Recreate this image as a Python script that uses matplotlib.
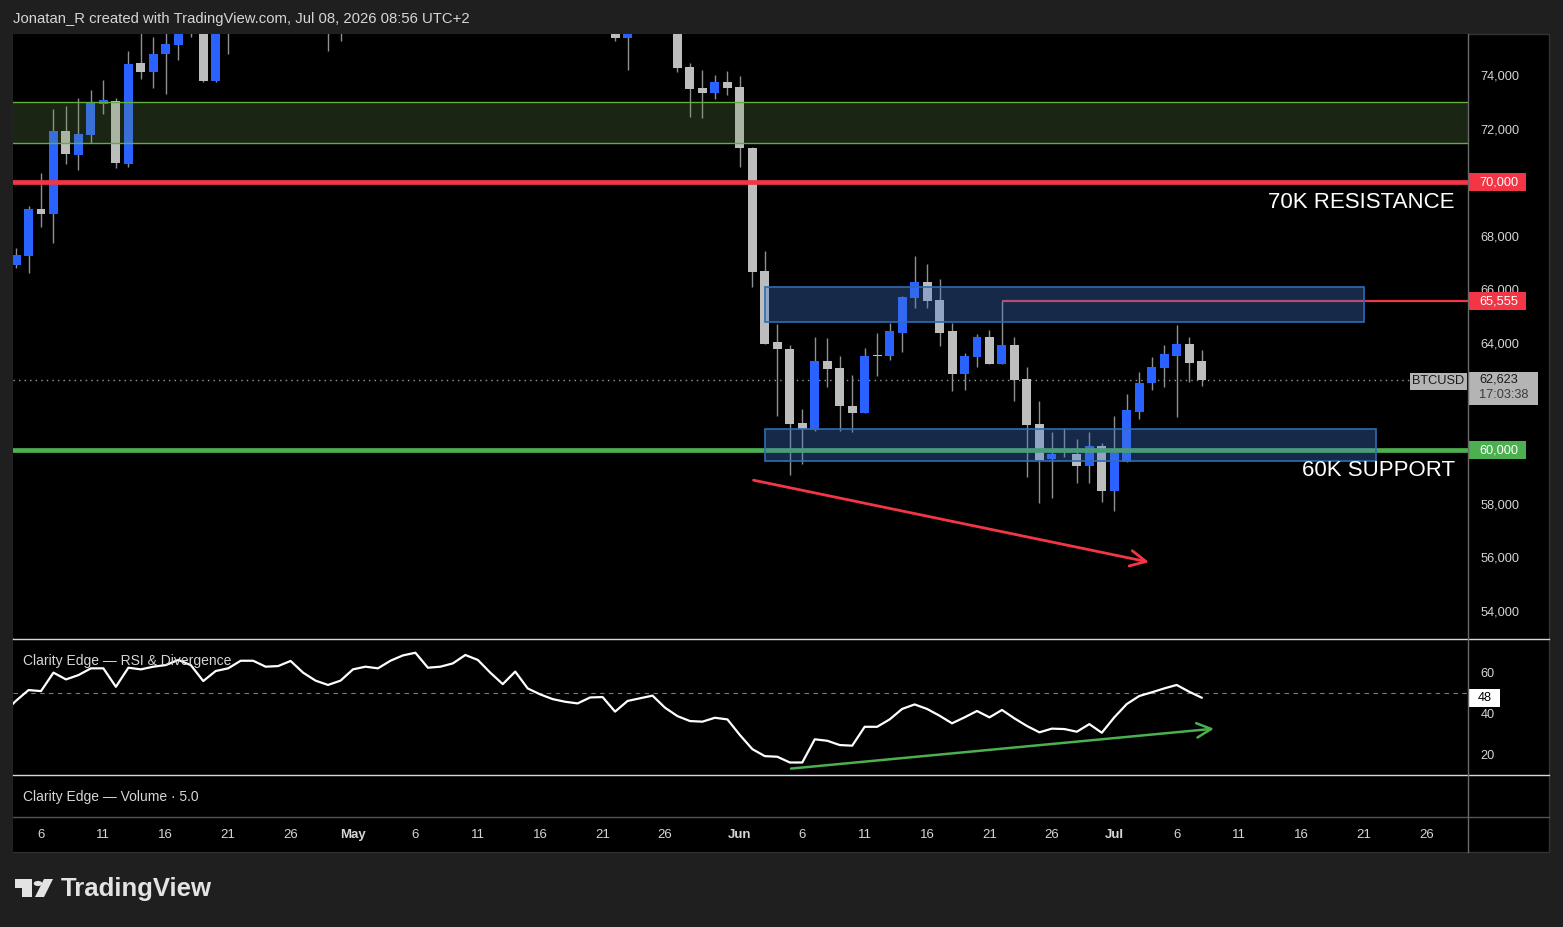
import matplotlib
matplotlib.use("Agg")
import matplotlib.pyplot as plt
import matplotlib.dates as mdates
from matplotlib.patches import Rectangle, Circle, Polygon
from matplotlib.lines import Line2D
from matplotlib.ticker import FuncFormatter
import numpy as np
import pandas as pd

plt.rcParams['font.family'] = ['Liberation Sans', 'DejaVu Sans']

# ---- data ----
dates = pd.date_range("2026-04-03", "2026-07-08", freq="D")

opens_apr = [66400, 66910, 67230, 68990, 68800, 71910, 71010, 71760, 72920, 73030, 70670, 74450, 74110, 74790,
             75120, 76200, 76500, 73780, 76400, 76900, 77800, 77900, 77400, 77500, 78300, 77100, 76300, 75800]
highs_apr = [67000, 67530, 69100, 70340, 72730, 72840, 73140, 73440, 73810, 73140, 74900, 75800, 75420, 75700,
             76300, 77100, 77000, 77200, 77300, 78200, 78400, 78100, 78000, 78600, 78500, 77400, 76600, 76700]
lows_apr = [66100, 66790, 66600, 68320, 67720, 70670, 70450, 71460, 72540, 70520, 70560, 73850, 73510, 73290,
            74560, 75420, 73740, 73740, 74790, 76500, 77200, 77000, 77100, 77300, 76900, 75900, 74900, 75270]
closes_apr = [66900, 67270, 68990, 68800, 71910, 71050, 71790, 72950, 73060, 70710, 74410, 74110, 74790, 75160,
              75900, 76600, 73780, 76400, 76900, 77800, 77900, 77400, 77500, 78300, 77100, 76300, 75800, 76200]

opens_may = [76200, 77600, 77900, 77800, 78700, 79500, 80000, 78600, 78700, 79200, 80300, 79800, 78700, 77600, 78500,
             77200, 76700, 76400, 76200, 76000, 76600, 76700, 75380, 76300, 76500, 76700, 75700, 74300, 73510, 73330, 73740]
highs_may = [77900, 78200, 78100, 79000, 79800, 80300, 80200, 79000, 79400, 80600, 80500, 80000, 78900, 78800, 78600,
             77400, 77000, 76800, 76500, 76900, 77000, 76900, 76600, 76800, 77000, 76800, 75900, 74450, 74190, 74000, 74150]
lows_may = [75900, 77300, 77400, 77600, 78500, 79200, 78300, 78200, 78500, 79000, 79500, 78400, 77300, 77400, 76900,
            76400, 76100, 75900, 75700, 75800, 76200, 75270, 74190, 75900, 76200, 75550, 74110, 72430, 72390, 73100, 73250]
closes_may = [77600, 77900, 77800, 78700, 79500, 80000, 78600, 78700, 79200, 80300, 79800, 78700, 77600, 78500, 77200,
              76700, 76400, 76200, 76000, 76600, 76700, 75380, 76300, 76500, 76700, 75700, 74260, 73480, 73330, 73740, 73510]

opens_jun = [73550, 71270, 66670, 64020, 63790, 61030, 60770, 63310, 63050, 61660, 61400, 63530, 63500, 64390, 65660,
             66260, 65590, 64430, 62860, 63460, 64210, 63200, 63940, 62640, 60990, 59680, 60050, 59870, 59420, 60170]
highs_jun = [73960, 71310, 67420, 64690, 63910, 61520, 64210, 64170, 63500, 62790, 63830, 64360, 64730, 65740, 67230,
             66940, 66370, 64730, 63610, 64320, 64500, 65555, 64210, 63120, 61850, 60660, 60840, 60430, 60690, 60250]
lows_jun = [70560, 66080, 63950, 61290, 59090, 59500, 60730, 62370, 60730, 60690, 61400, 62750, 63380, 63650, 65290,
            65290, 63870, 62190, 62230, 63120, 63200, 63200, 61850, 59010, 58040, 58230, 59760, 58790, 58790, 58080]
closes_jun = [71270, 66640, 63980, 63760, 60990, 60800, 63310, 63010, 61630, 61400, 63530, 63500, 64430, 65700, 66260,
              65550, 64390, 62860, 63500, 64240, 63200, 63940, 62600, 60950, 59650, 59870, 59980, 59420, 60170, 58490]

opens_jul = [58490, 59570, 61440, 62490, 63050, 63530, 63980, 63310]
highs_jul = [61290, 62110, 62900, 63460, 63940, 64660, 64240, 63720]
lows_jul = [57740, 59570, 61180, 62260, 62370, 61250, 62560, 62410]
closes_jul = [59900, 61480, 62520, 63090, 63570, 63980, 63270, 62623]

rsi_vals = [40.0, 46.0, 51.2, 50.7, 59.7, 56.4, 58.5, 61.8, 61.8, 52.8, 62.1, 61.3, 62.6, 63.4, 65.9, 63.4, 55.6,
            60.5, 61.8, 65.5, 65.5, 62.6, 62.9, 65.4, 59.7, 55.8, 53.7, 55.8,
            61.3, 62.6, 61.8, 65.5, 68.1, 69.4, 62.1, 62.6, 64.2, 68.3, 65.9, 59.7, 54.1, 60.2, 52.0, 49.1, 46.8,
            45.5, 44.7, 47.6, 47.8, 40.7, 45.9, 47.2, 48.5, 42.6, 38.5, 36.1, 35.8, 37.7, 36.9,
            29.3, 22.4, 19.0, 18.7, 15.9, 15.9, 27.2, 26.5, 24.4, 24.1, 33.3, 33.3, 36.9, 42.0, 44.2, 42.0, 38.7,
            35.0, 37.9, 41.0, 37.9, 41.5, 37.4, 33.7, 30.6, 32.4, 32.2, 30.9, 34.6, 30.4,
            37.9, 44.4, 48.3, 50.1, 52.0, 53.7, 50.4, 47.5]

opens = opens_apr + opens_may + opens_jun + opens_jul
highs = highs_apr + highs_may + highs_jun + highs_jul
lows = lows_apr + lows_may + lows_jun + lows_jul
closes = closes_apr + closes_may + closes_jun + closes_jul

# drawn levels / zones
supply_zone = (71450, 73000)
resistance = 70000
support = 60000
ray_level = 65555
ray_start = "2026-06-22"
upper_box = ("2026-06-03", "2026-07-21", 64770, 66075)
lower_box = ("2026-06-03", "2026-07-22", 59610, 60800)
red_arrow = (("2026-06-01 21:00", 58900), ("2026-07-04", 55800))
green_arrow = (("2026-06-04 21:00", 12.8), ("2026-07-09 05:00", 32.5))
last_price = 62623

tick_dates = ["2026-04-06", "2026-04-11", "2026-04-16", "2026-04-21", "2026-04-26", "2026-05-01", "2026-05-06",
              "2026-05-11", "2026-05-16", "2026-05-21", "2026-05-26", "2026-06-01", "2026-06-06", "2026-06-11",
              "2026-06-16", "2026-06-21", "2026-06-26", "2026-07-01", "2026-07-06", "2026-07-11", "2026-07-16",
              "2026-07-21", "2026-07-26"]
tick_labels = ["6", "11", "16", "21", "26", "May", "6", "11", "16", "21", "26", "Jun", "6", "11", "16", "21", "26",
               "Jul", "6", "11", "16", "21", "26"]
# 60k / 62k / 70k labels sit under the price tags in the screenshot
price_ticks = [54000, 56000, 58000, 64000, 66000, 68000, 72000, 74000]
rsi_ticks = [20, 40, 60]

# ---- layout helpers ----
W, H = 1563, 927
def fx(x): return x / W
def fy(y): return 1 - y / H

BG = '#1f1f1f'
TXT = '#d6d6d6'
BLUE = '#2962ff'
GRAY = '#bdbdbd'
RED = '#f23645'
GREEN = '#4caf50'

fig = plt.figure(figsize=(15.63, 9.27), dpi=100, facecolor=BG)
fig.add_artist(Rectangle((fx(13), fy(852)), (1549 - 13) / W, (852 - 34) / H, transform=fig.transFigure,
                         facecolor='black', edgecolor='#333333', lw=1, zorder=-1))

ax = fig.add_axes([fx(13), fy(638), 1455 / W, (638 - 34) / H])
rsi_ax = fig.add_axes([fx(13), fy(775), 1455 / W, (775 - 639) / H])
vol_ax = fig.add_axes([fx(13), fy(817), 1455 / W, (817 - 776) / H])
date_ax = fig.add_axes([fx(13), fy(852), 1455 / W, (852 - 818) / H])

x = mdates.date2num(dates)
apr6 = mdates.date2num(pd.Timestamp("2026-04-06"))
xlim = (apr6 - 28 / 12.48, apr6 + 1427 / 12.48)
def num(s): return mdates.date2num(pd.Timestamp(s))

for a in (ax, rsi_ax, vol_ax, date_ax):
    a.set_facecolor('black')
    a.set_xlim(*xlim)
    a.set_xticks([])
    for s in a.spines.values():
        s.set_visible(False)

# ---- candles ----
o = np.array(opens, float); c = np.array(closes, float)
hi = np.array(highs, float); lo = np.array(lows, float)
up = c >= o
colors = np.where(up, BLUE, GRAY)
ax.vlines(x, lo, hi, color='#8f8f8f', lw=1, zorder=2)
body = np.maximum(np.abs(c - o), 40)
ax.bar(x, body, bottom=np.minimum(o, c), width=0.72, color=colors, zorder=3, linewidth=0)

ax.set_ylim(52990, 75530)

# zones and levels
ax.axhspan(supply_zone[0], supply_zone[1], facecolor='#6f9c56', alpha=0.243, zorder=4, lw=0)
for lvl in supply_zone:
    ax.axhline(lvl, color='#5fae3e', lw=1, zorder=5)
ax.axhline(resistance, color=RED, lw=3.4, zorder=6)
ax.axhline(support, color=GREEN, lw=3.4, zorder=3.5)
ax.hlines(ray_level, num(ray_start), xlim[1], color=RED, lw=1.6, zorder=3.5)
for b in (upper_box, lower_box):
    x0, x1 = num(b[0]), num(b[1])
    ax.add_patch(Rectangle((x0, b[2]), x1 - x0, b[3] - b[2], facecolor='#4478d0', alpha=0.35, lw=0, zorder=4))
    ax.add_patch(Rectangle((x0, b[2]), x1 - x0, b[3] - b[2], facecolor='none', edgecolor='#2d6cb5', lw=1.2, zorder=4.5))

ax.annotate('', xy=(num(red_arrow[1][0]), red_arrow[1][1]), xytext=(num(red_arrow[0][0]), red_arrow[0][1]),
            arrowprops=dict(arrowstyle='->', color=RED, lw=2, mutation_scale=28), zorder=7)

# last price dotted line
ax.hlines(last_price, xlim[0], xlim[0] + (1410 - 13) / 12.48, color='#9a9a9a', lw=1, linestyles=(0, (1, 3)), zorder=2)

ax.text(0.991, 69250, '70K RESISTANCE', transform=ax.get_yaxis_transform(), ha='right', va='center',
        color='white', fontsize=16, zorder=8)
ax.text(0.991, 59230, '60K SUPPORT', transform=ax.get_yaxis_transform(), ha='right', va='center',
        color='white', fontsize=16, zorder=8)

# right price scale
ax.yaxis.tick_right()
ax.set_yticks(price_ticks)
ax.yaxis.set_major_formatter(FuncFormatter(lambda v, p: f"{v:,.0f}"))
ax.tick_params(axis='y', length=0, pad=9, labelsize=9.2, labelcolor=TXT)

def axfx(px): return (px - 13) / 1455
ytr = ax.get_yaxis_transform()
def price_tag(val, text, fc, tc='white'):
    ax.add_patch(Rectangle((axfx(1469), val - 336), 57 / 1455, 672, transform=ytr, facecolor=fc,
                           edgecolor='none', clip_on=False, zorder=20))
    ax.text(axfx(1479), val, text, transform=ytr, color=tc, va='center', ha='left', fontsize=9.2,
            zorder=21, clip_on=False)

price_tag(resistance, '70,000', RED)
price_tag(ray_level, '65,555', RED)
price_tag(support, '60,000', GREEN)

ax.add_patch(Rectangle((axfx(1469), 61700), 69 / 1455, 1235, transform=ytr, facecolor='#b4b4b4',
                       edgecolor='none', clip_on=False, zorder=20))
ax.text(axfx(1479), last_price, f"{last_price:,}", transform=ytr, color='#1a1a1a', va='center', ha='left',
        fontsize=9.2, zorder=21, clip_on=False)
ax.text(axfx(1479), 62040, '17:03:38', transform=ytr, color='#3a3a3a', va='center', ha='left',
        fontsize=9.2, zorder=21, clip_on=False)
ax.add_patch(Rectangle((axfx(1410), 62262), 57 / 1455, 635, transform=ytr, facecolor='#b4b4b4',
                       edgecolor='none', clip_on=False, zorder=20))
ax.text(axfx(1438.5), 62590, 'BTCUSD', transform=ytr, color='#1a1a1a', va='center', ha='center',
        fontsize=9.2, zorder=21, clip_on=False)

# ---- RSI panel ----
rsi_ax.plot(x, rsi_vals, color='white', lw=1.6, zorder=3)
rsi_ax.set_ylim(9.8, 76.1)
rsi_ax.axhline(50, color='#787b86', lw=0.8, ls=(0, (4, 4)), zorder=2)
rsi_ax.annotate('', xy=(num(green_arrow[1][0]), green_arrow[1][1]),
                xytext=(num(green_arrow[0][0]), green_arrow[0][1]),
                arrowprops=dict(arrowstyle='->', color=GREEN, lw=1.8, mutation_scale=26), zorder=4)
rsi_ax.yaxis.tick_right()
rsi_ax.set_yticks(rsi_ticks)
rsi_ax.tick_params(axis='y', length=0, pad=9, labelsize=9.2, labelcolor=TXT)
rtr = rsi_ax.get_yaxis_transform()
rsi_ax.add_patch(Rectangle((axfx(1469), rsi_vals[-1] - 4.4), 31 / 1455, 8.8, transform=rtr, facecolor='white',
                           edgecolor='none', clip_on=False, zorder=20))
rsi_ax.text(axfx(1484.5), rsi_vals[-1], f"{round(rsi_vals[-1])}", transform=rtr, color='black', va='center',
            ha='center', fontsize=9.2, zorder=21, clip_on=False)
rsi_ax.text(10 / 1455, 0.84, 'Clarity Edge — RSI & Divergence', transform=rsi_ax.transAxes, color=TXT,
            fontsize=10, va='center', ha='left', zorder=5)

vol_ax.set_yticks([])
vol_ax.text(10 / 1455, 0.5, 'Clarity Edge — Volume · 5.0', transform=vol_ax.transAxes, color=TXT,
            fontsize=10, va='center', ha='left')

# ---- date axis ----
date_ax.set_yticks([])
for d, lab in zip(tick_dates, tick_labels):
    bold = not lab.isdigit()
    date_ax.text(num(d), 0.5, lab, transform=date_ax.get_xaxis_transform(), ha='center', va='center',
                 color=TXT, fontsize=9.5, fontweight='bold' if bold else 'normal')

# ---- separators ----
for yy, col in ((639, '#d8d8d8'), (775, '#d8d8d8'), (817, '#555555')):
    fig.add_artist(Line2D([fx(13), fx(1549)], [fy(yy), fy(yy)], transform=fig.transFigure, color=col, lw=1))
fig.add_artist(Line2D([fx(1468), fx(1468)], [fy(34), fy(852)], transform=fig.transFigure, color='#6a6a6a', lw=1))

# ---- header / footer ----
fig.text(fx(13), fy(19), 'Jonatan_R created with TradingView.com, Jul 08, 2026 08:56 UTC+2', color=TXT,
         fontsize=10.7, va='center', ha='left')
logo = '#e3e3e3'
fig.add_artist(Rectangle((fx(15), fy(888)), 17 / W, 9 / H, transform=fig.transFigure, facecolor=logo, lw=0))
fig.add_artist(Rectangle((fx(22), fy(897)), 10 / W, 10 / H, transform=fig.transFigure, facecolor=logo, lw=0))
fig.add_artist(Circle((fx(38), fy(883.5)), 4.3 / W, transform=fig.transFigure, facecolor=logo, lw=0))
fig.add_artist(Polygon([(fx(44), fy(879)), (fx(53), fy(879)), (fx(44), fy(897)), (fx(35), fy(897))],
                       closed=True, transform=fig.transFigure, facecolor=logo, lw=0))
fig.text(fx(61), fy(889), 'TradingView', color=logo, fontsize=18.5, fontweight='bold', va='center', ha='left')

fig.savefig('out.png', dpi=100, facecolor=BG)
